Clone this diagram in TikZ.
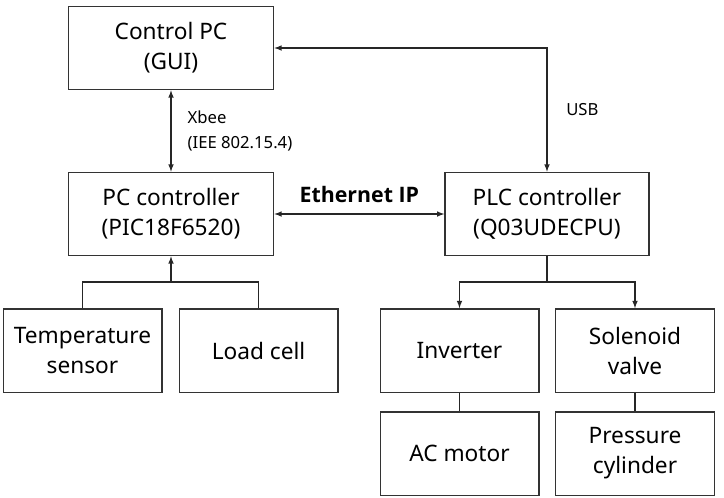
\documentclass[tikz,border=0pt]{standalone}
\usepackage{fontspec}
\setmainfont{Noto Sans}
\newfontfamily\ethfont{Open Sans}[BoldFont={* Bold}]
\usetikzlibrary{arrows,positioning}

\tikzset{
  blockbox/.style={draw=black!80, line width=1pt, align=center, inner sep=0pt,
    minimum height=62.5pt, font=\fontsize{17}{22.5}\selectfont},
  wide/.style={minimum width=154pt},
  narrow/.style={minimum width=119pt},
  link/.style={draw=black!85, line width=0.9pt},
  note/.style={font=\fontsize{12.5}{18.75}\selectfont, align=left, inner sep=0pt}
}

\begin{document}
\begin{tikzpicture}[x=0.75pt,y=-0.75pt,>=latex]
            \useasboundingbox (0,0) rectangle (724,497);

            % top row
            \node[blockbox,wide] (ctrl) at (171,48) {Control PC\\(GUI)};

            % middle row
            \node[blockbox,wide] (pcc) at (171,214) {PC controller\\(PIC18F6520)};
            \node[blockbox,minimum width=153pt] (plc) at (547,214) {PLC controller\\(Q03UDECPU)};

            % sensors
            \node[blockbox,narrow] (temp) at (82.5,350.5) {Temperature\\sensor};
            \node[blockbox,narrow] (load) at (258.5,350.5) {Load cell};

            % actuators
            \node[blockbox,narrow] (inv) at (459.5,350.5) {Inverter};
            \node[blockbox,narrow] (sol) at (635,350.5) {Solenoid\\valve};
            \node[blockbox,narrow] (acm) at (459.5,453.5) {AC motor};
            \node[blockbox,narrow] (cyl) at (635,453.5) {Pressure\\cylinder};

            \coordinate (jl) at (171,282);
            \coordinate (jr) at (547,282);

            \draw[link,<->] (ctrl) -- (pcc) node[note,midway,anchor=west,xshift=12pt] (xbee) {Xbee\\(IEE 802.15.4)};
            \draw[link,<->] (ctrl.east) -| (plc.north) node[note,pos=0.75,anchor=west,xshift=14pt] (usb) {USB};
            \draw[link,<->] (pcc) -- (plc) node[midway,above=5pt,font=\ethfont\bfseries\fontsize{16}{19}\selectfont] (eth) {Ethernet IP};

            \draw[link] (temp.north) |- (jl) -| (load.north);
            \draw[link,->] (jl) -- (pcc.south);

            \draw[link] (plc.south) -- (jr);
            \draw[link,->] (jr) -| (inv.north);
            \draw[link,->] (jr) -| (sol.north);

            \draw[link] (inv) -- (acm);
            \draw[link] (sol) -- (cyl);
\end{tikzpicture}
\end{document}
